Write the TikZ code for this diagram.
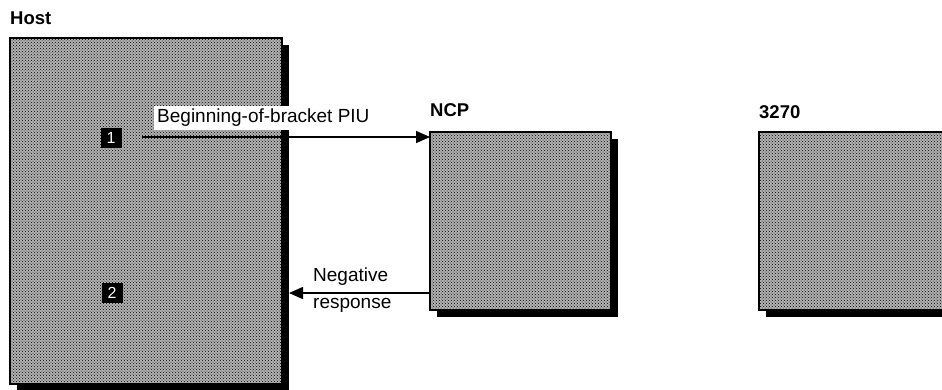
\documentclass[tikz,border=0pt]{standalone}
\usepackage{fontspec}
\setmainfont{Liberation Sans}
\usetikzlibrary{arrows.meta,shadows,patterns}
\begin{document}
\begin{tikzpicture}[x=1pt,y=-1pt,
  unitbox/.style={draw=black,line width=1.8pt,fill=black!30,
    postaction={pattern=crosshatch dots,pattern color=black},
    drop shadow={shadow xshift=7pt,shadow yshift=-7pt,opacity=1,fill=black},
    inner sep=0pt,outer sep=0pt},
  title/.style={font=\fontsize{18.5}{20}\selectfont\bfseries,anchor=west,inner sep=0pt},
  lbl/.style={font=\fontsize{19}{21}\selectfont,anchor=west,inner sep=0pt},
  numbox/.style={fill=black,text=white,minimum width=21pt,minimum height=20pt,
    inner sep=0pt,font=\fontsize{16}{17}\selectfont},
  arr/.style={line width=1.4pt,-{Triangle[length=14pt,width=12pt]}}]
\useasboundingbox (0,0) rectangle (942,389);
% boxes
\node[unitbox,minimum width=272pt,minimum height=346pt] (host) at (146,211) {};
\node[unitbox,minimum width=181pt,minimum height=178pt] (ncp) at (520.5,221) {};
\node[unitbox,minimum width=210pt,minimum height=178pt] (term) at (864,221) {};
% titles
\node[title] (thost) at (10,18) {Host};
\node[title] (tncp) at (430,110) {NCP};
\node[title] (tterm) at (759,112) {3270};
% numbered markers
\node[numbox] (n1) at (111,138) {1};
\node[numbox] (n2) at (112,293) {2};
% arrow 1
\coordinate (a1) at (142,137);
\draw[arr] (a1) -- (ncp.west |- a1);
\node[lbl,fill=white,inner xsep=3pt,inner ysep=3pt] (l1) at (154,118) {Beginning-of-bracket PIU};
% arrow 2
\coordinate (a2) at (289,293);
\draw[arr] (ncp.west |- a2) -- (a2);
\node[lbl] (l2) at (313,277) {Negative};
\node[lbl] (l3) at (313,305) {response};
\end{tikzpicture}
\end{document}
